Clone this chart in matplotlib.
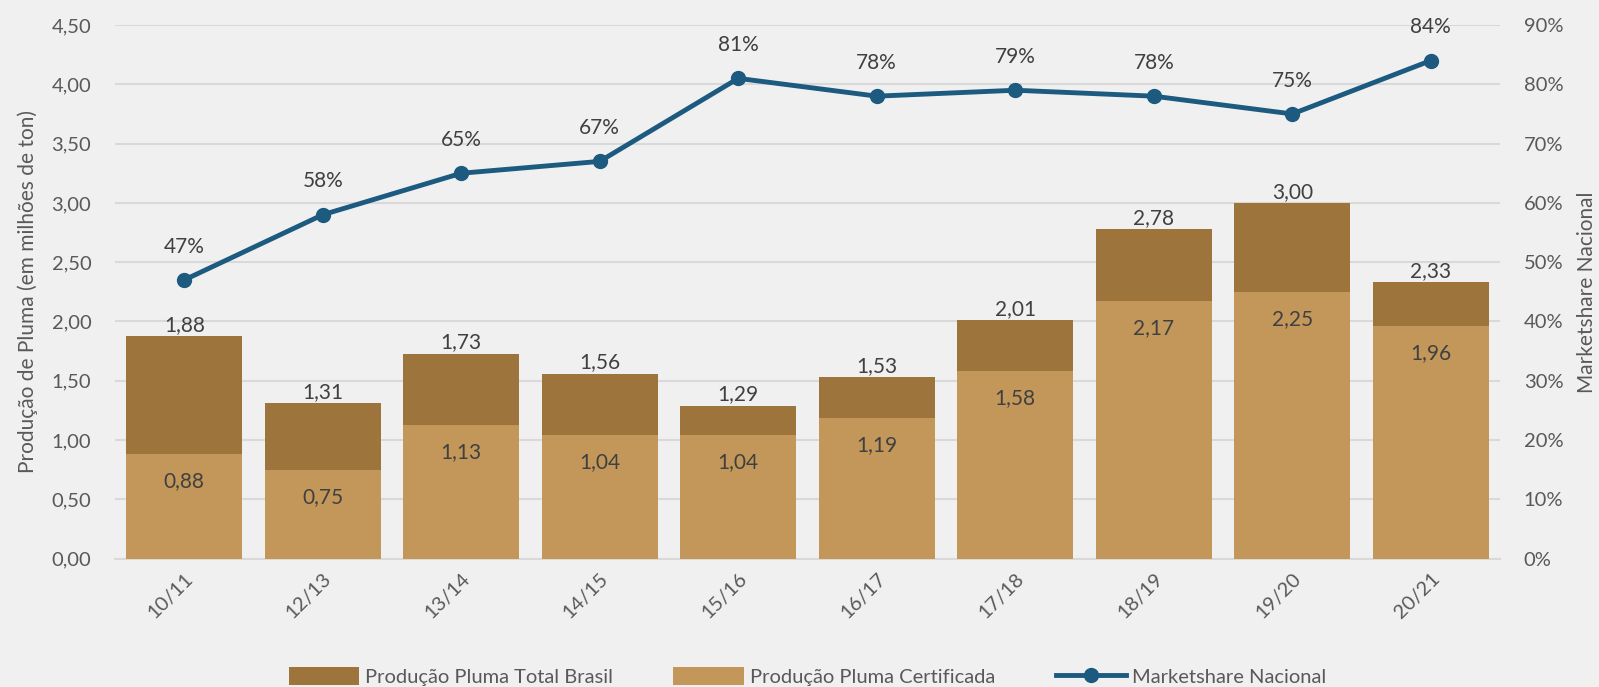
import matplotlib
matplotlib.use("Agg")
import matplotlib.pyplot as plt
from matplotlib.patches import Patch
from matplotlib.lines import Line2D
from matplotlib.ticker import FuncFormatter, MultipleLocator

safras = ["10/11", "12/13", "13/14", "14/15", "15/16", "16/17", "17/18", "18/19", "19/20", "20/21"]
total_brasil = [1.88, 1.31, 1.73, 1.56, 1.29, 1.53, 2.01, 2.78, 3.00, 2.33]
certificada = [0.88, 0.75, 1.13, 1.04, 1.04, 1.19, 1.58, 2.17, 2.25, 1.96]
marketshare = [47, 58, 65, 67, 81, 78, 79, 78, 75, 84]

dark_brown = "#9C743C"
light_brown = "#C39759"
line_blue = "#1D5A80"
label_col = "#404040"
tick_col = "#595959"
bg = "#F0F0F0"

plt.rcParams["font.family"] = ["Lato", "DejaVu Sans"]

fig = plt.figure(figsize=(15.99, 6.87), dpi=100, facecolor=bg)
ax = fig.add_axes([0.0719, 0.1868, 0.8662, 0.7768])
ax.set_facecolor(bg)

x = list(range(len(safras)))
w = 0.84
ax.bar(x, total_brasil, width=w, color=dark_brown, zorder=2)
ax.bar(x, certificada, width=w, color=light_brown, zorder=3)

for xi, t, c in zip(x, total_brasil, certificada):
    ax.annotate(f"{t:.2f}".replace(".", ","), (xi, t), xytext=(0, 8), textcoords="offset points",
                ha="center", va="center", fontsize=15, color=label_col)
    ax.annotate(f"{c:.2f}".replace(".", ","), (xi, c), xytext=(0, -19.5), textcoords="offset points",
                ha="center", va="center", fontsize=15, color=label_col, zorder=5)

ax.set_xlim(-0.5, len(safras) - 0.5)
ax.set_ylim(0, 4.5)
ax.yaxis.set_major_locator(MultipleLocator(0.5))
ax.yaxis.set_major_formatter(FuncFormatter(lambda v, p: f"{v:.2f}".replace(".", ",")))
ax.grid(axis="y", color="#D9D9D9", linewidth=1.5, zorder=0)
ax.set_axisbelow(True)
for s in ["top", "right", "left"]:
    ax.spines[s].set_visible(False)
ax.spines["bottom"].set_color("#D9D9D9")
ax.spines["bottom"].set_linewidth(1.5)
ax.tick_params(axis="y", length=0, pad=17, labelsize=14.5, labelcolor=tick_col)
ax.tick_params(axis="x", length=0, pad=8, labelsize=14.5, labelcolor=tick_col)
ax.set_xticks(x)
ax.set_xticklabels(safras, rotation=45, ha="right", rotation_mode="anchor")
ax.set_ylabel("Produção de Pluma (em milhões de ton)", fontsize=15, color=tick_col, labelpad=10)

ax2 = ax.twinx()
ax2.set_ylim(0, 90)
ax2.yaxis.set_major_locator(MultipleLocator(10))
ax2.yaxis.set_major_formatter(FuncFormatter(lambda v, p: f"{v:.0f}%"))
for s in ["top", "right", "left", "bottom"]:
    ax2.spines[s].set_visible(False)
ax2.tick_params(axis="y", length=0, pad=17, labelsize=14.5, labelcolor=tick_col)
ax2.plot(x, marketshare, color=line_blue, linewidth=3.5, marker="o", markersize=10, zorder=4)
for xi, m in zip(x, marketshare):
    ax2.annotate(f"{m}%", (xi, m), xytext=(0, 24), textcoords="offset points",
                 ha="center", va="center", fontsize=15, color=label_col)
ax2.set_ylabel("Marketshare Nacional", fontsize=15, color=tick_col, labelpad=10)

handles = [
    Patch(facecolor=dark_brown, label="Produção Pluma Total Brasil"),
    Patch(facecolor=light_brown, label="Produção Pluma Certificada"),
    Line2D([0], [0], color=line_blue, linewidth=3.5, marker="o", markersize=10,
           label="Marketshare Nacional"),
]
fig.legend(handles=handles, loc="lower center", bbox_to_anchor=(0.505, -0.025), ncol=3,
           frameon=False, fontsize=14.5, labelcolor=tick_col, handlelength=3.5,
           handleheight=1.0, columnspacing=3.0, handletextpad=0.3)

fig.savefig("out.png", dpi=100, facecolor=bg)
